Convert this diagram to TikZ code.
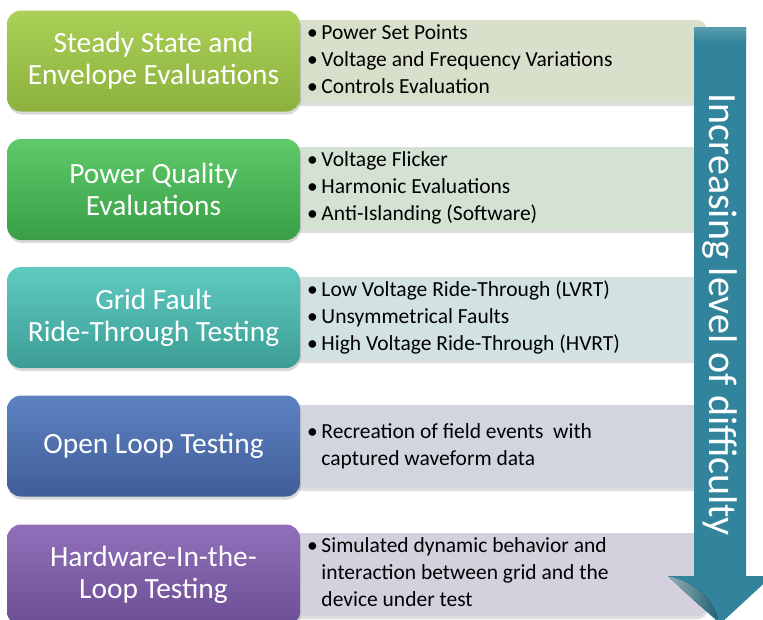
\documentclass[tikz,border=0pt]{standalone}
\usepackage{fontspec}
\setmainfont{Carlito}
\usetikzlibrary{shadows}

\definecolor{steadytop}{HTML}{AAD057}
\definecolor{steadybot}{HTML}{8CB13D}
\definecolor{qualitytop}{HTML}{5FCA6A}
\definecolor{qualitybot}{HTML}{399E46}
\definecolor{faulttop}{HTML}{5FCBC0}
\definecolor{faultbot}{HTML}{3C9D95}
\definecolor{opentop}{HTML}{5D82C2}
\definecolor{openbot}{HTML}{405E98}
\definecolor{hiltop}{HTML}{9070BA}
\definecolor{hilbot}{HTML}{6C4E95}
\definecolor{steadypanel}{HTML}{D8E0CB}
\definecolor{qualitypanel}{HTML}{D3E2D2}
\definecolor{faultpanel}{HTML}{D2E2E2}
\definecolor{openpanel}{HTML}{D1D5E0}
\definecolor{hilpanel}{HTML}{D5D0DE}
\definecolor{arrowteal}{HTML}{31849B}

\begin{document}
\begin{tikzpicture}[x=1pt, y=-1pt,
    stage/.style={rounded corners=14pt, minimum width=293pt, minimum height=101pt,
        inner sep=0pt, text=white, align=center, font=\fontsize{29.4}{32}\selectfont,
        drop shadow={opacity=0.3, shadow xshift=1pt, shadow yshift=-3pt}},
    panel/.style={rounded corners=10pt,
        drop shadow={opacity=0.25, shadow xshift=1pt, shadow yshift=-3pt}},
    detail/.style={anchor=west, inner sep=0pt, align=left,
        font=\fontsize{21.5}{27}\selectfont}]

    \clip (0, 0) rectangle (763, 619);

    %% Test stages, easiest at the top
    % Detail panels (behind the stage boxes)
    \fill[panel, fill=steadypanel] (290, 20) rectangle (707, 103);
    \fill[panel, fill=qualitypanel] (290, 147) rectangle (707, 230);
    \fill[panel, fill=faultpanel] (290, 277) rectangle (707, 360);
    \fill[panel, fill=openpanel] (290, 405) rectangle (707, 488);
    \fill[panel, fill=hilpanel] (290, 533) rectangle (707, 616);

    % Stage boxes
    \node[stage, top color=steadytop, bottom color=steadybot] (steady) at (153.5, 61)
        {Steady State and\\Envelope Evaluations};
    \node[stage, top color=qualitytop, bottom color=qualitybot] (quality) at (153.5, 189.5)
        {Power Quality\\Evaluations};
    \node[stage, top color=faulttop, bottom color=faultbot] (fault) at (153.5, 317.5)
        {Grid Fault\\Ride-Through Testing};
    \node[stage, top color=opentop, bottom color=openbot] (openloop) at (153.5, 446)
        {Open Loop Testing};
    \node[stage, top color=hiltop, bottom color=hilbot] (hil) at (153.5, 575)
        {Hardware-In-the-\\Loop Testing};

    % Details
    \node[detail] (steadyinfo) at (307, 61.5) {\begin{tabular}{@{}l@{\,}l@{}}
        \textbullet & Power Set Points\\
        \textbullet & Voltage and Frequency Variations\\
        \textbullet & Controls Evaluation\end{tabular}};
    \node[detail] (qualityinfo) at (307, 188.5) {\begin{tabular}{@{}l@{\,}l@{}}
        \textbullet & Voltage Flicker\\
        \textbullet & Harmonic Evaluations\\
        \textbullet & Anti-Islanding (Software)\end{tabular}};
    \node[detail] (faultinfo) at (307, 318.5) {\begin{tabular}{@{}l@{\,}l@{}}
        \textbullet & Low Voltage Ride-Through (LVRT)\\
        \textbullet & Unsymmetrical Faults\\
        \textbullet & High Voltage Ride-Through (HVRT)\end{tabular}};
    \node[detail] (openinfo) at (307, 446.5) {\begin{tabular}{@{}l@{\,}l@{}}
        \textbullet & Recreation of field events\ \ with\\
        & captured waveform data\end{tabular}};
    \node[detail] (hilinfo) at (307, 574.5) {\begin{tabular}{@{}l@{\,}l@{}}
        \textbullet & Simulated dynamic behavior and\\
        & interaction between grid and the\\
        & device under test\end{tabular}};

    % Difficulty arrow
    \fill[arrowteal] (694, 27) -- (746, 27) -- (746, 576) -- (772, 576)
        -- (720, 624) -- (668, 576) -- (694, 576) -- cycle;
    \fill[top color=arrowteal!80!white, bottom color=arrowteal] (694, 27) rectangle (746, 42);
    % curled wing of the head
    \fill[left color=arrowteal!40!white, right color=arrowteal!85!black, opacity=0.85]
        (668, 576) .. controls (695, 582) and (712, 598) .. (718, 619) -- (698, 604) -- cycle;
    \node[rotate=-90, text=white, font=\fontsize{40}{42}\selectfont] (difficulty)
        at (720, 315) {Increasing level of difficulty};

\end{tikzpicture}
\end{document}
